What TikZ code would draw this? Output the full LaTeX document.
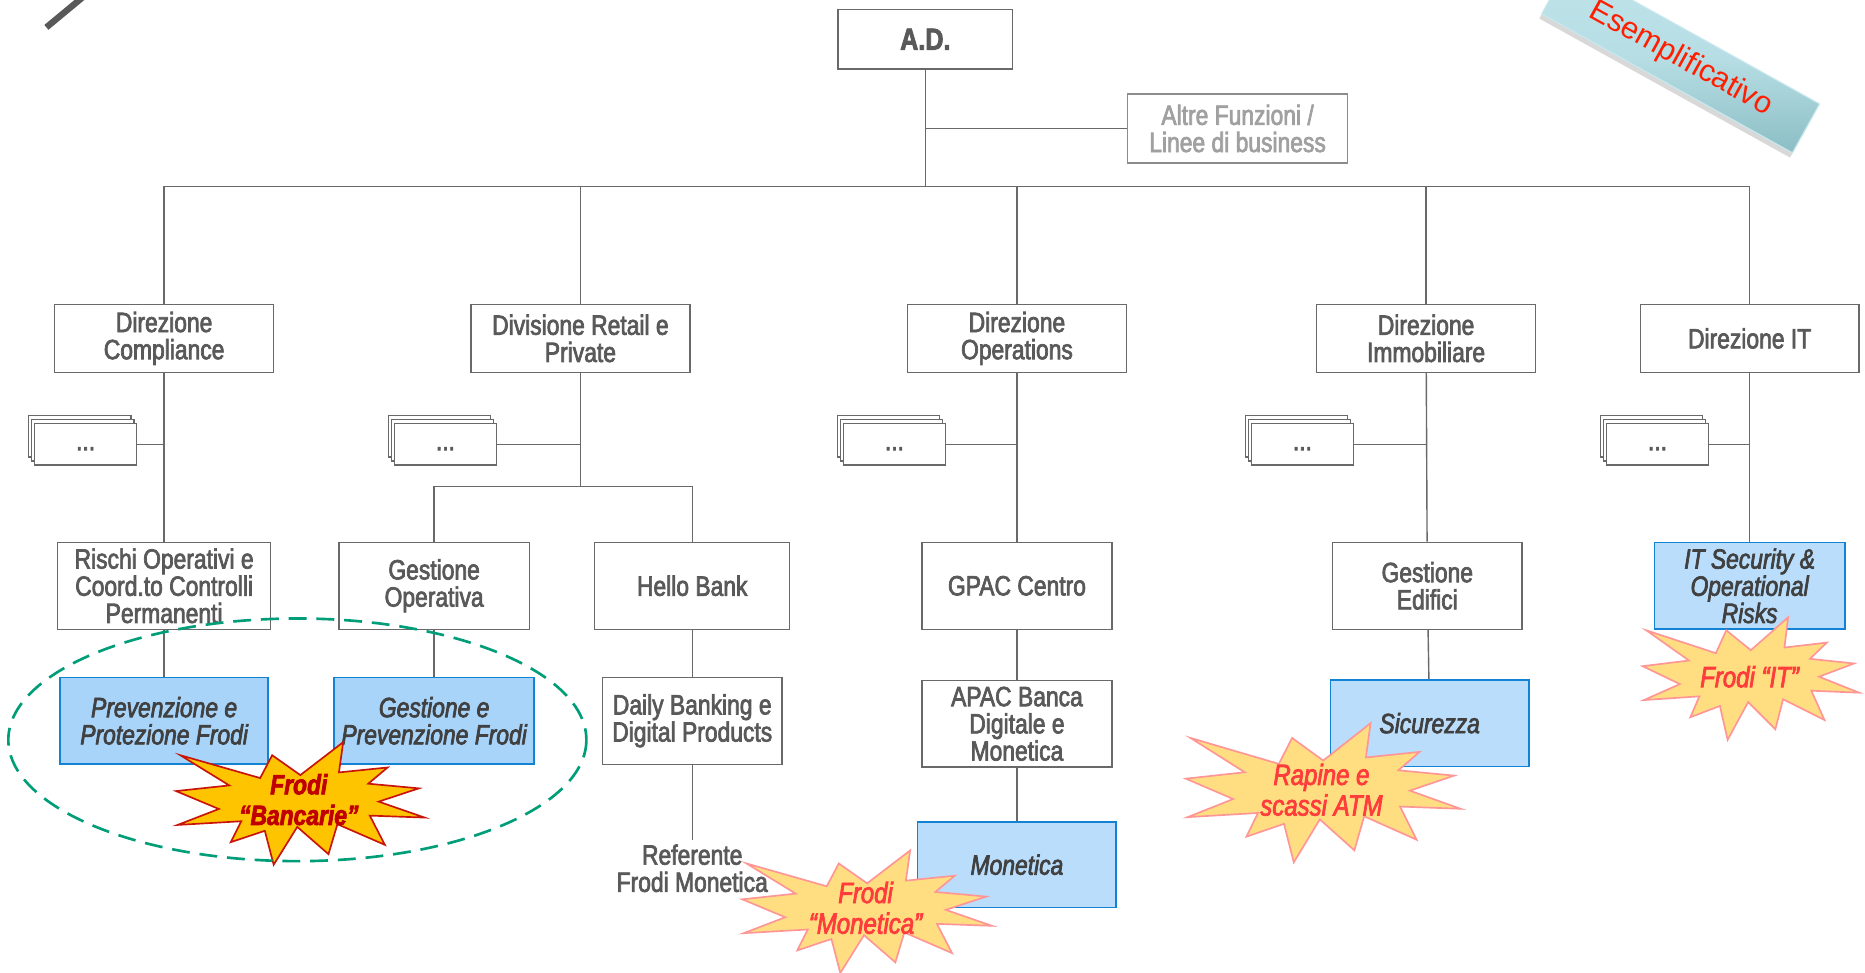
\documentclass[tikz,border=0pt]{standalone}
\usepackage{fontspec}
\setmainfont{Liberation Sans}[FakeStretch=0.82,FakeBold=2.5]
\newfontfamily\bannerfont{Liberation Sans}
\usetikzlibrary{shadows}
\definecolor{line_gray}{RGB}{105,105,105}
\definecolor{text_gray}{RGB}{89,89,89}
\definecolor{text_dark}{RGB}{64,64,64}
\definecolor{text_light}{RGB}{160,160,160}
\definecolor{edge_light}{RGB}{140,140,140}
\definecolor{node_blue}{RGB}{186,221,252}
\definecolor{node_blue2}{RGB}{168,212,250}
\definecolor{edge_blue}{RGB}{20,130,210}
\definecolor{star_gold}{RGB}{255,196,0}
\definecolor{edge_darkred}{RGB}{200,20,10}
\definecolor{text_darkred}{RGB}{192,0,0}
\definecolor{star_yellow}{RGB}{255,222,130}
\definecolor{edge_pink}{RGB}{255,150,150}
\definecolor{text_red}{RGB}{255,60,60}
\definecolor{ellipse_green}{RGB}{0,158,120}
\definecolor{banner_top}{RGB}{192,229,235}
\definecolor{banner_bot}{RGB}{140,190,197}
\definecolor{banner_edge}{RGB}{200,232,238}
\definecolor{banner_text}{RGB}{255,30,0}

% explosion outline: x0, y0, width, height, style
\newcommand{\explosion}[5]{%
  \begin{scope}[shift={(#1,#2)},xscale=#3/216,yscale=#4/216]
    \draw[#5] (108,58) -- (145.22,0) -- (141.55,53.25) -- (183.80,44.57)
      -- (167.02,73.15) -- (210.97,81.37) -- (176.07,104.75) -- (216,132.90)
      -- (168.37,129.42) -- (181.45,180.95) -- (140.20,144.57) -- (132.47,197.37)
      -- (105.32,149.35) -- (84.85,216) -- (77.15,156.27) -- (47.62,176.17)
      -- (56.67,139.37) -- (1.35,145.87) -- (37.22,117.75) -- (0,86.15)
      -- (46.27,76.17) -- (3.70,22.95) -- (73.12,63.20) -- (83.52,22.95) -- cycle;
  \end{scope}}

\begin{document}
\begin{tikzpicture}[x=0.3mm,y=-0.3mm,line width=1pt]
    \tikzstyle{box}=[draw=line_gray, fill=white, text=text_gray, align=center, inner sep=0pt, font=\fontsize{20}{19.5}\selectfont]
    \tikzstyle{head}=[box, minimum width=55.2mm, minimum height=17.1mm]
    \tikzstyle{unit}=[box, minimum height=21.9mm]
    \tikzstyle{risk}=[unit, fill=node_blue, draw=edge_blue, line width=1.2pt, text=text_dark, font=\fontsize{20}{19.5}\selectfont\itshape]
    \tikzstyle{riskgroup}=[risk, fill=node_blue2]
    \tikzstyle{dots}=[box, minimum width=25.8mm, minimum height=10.5mm, text height=3mm, text depth=0pt,
      copy shadow={shadow xshift=-1.5mm, shadow yshift=2mm, fill=white, draw=line_gray},
      copy shadow={shadow xshift=-0.75mm, shadow yshift=1mm, fill=white, draw=line_gray}]
    \tikzstyle{link}=[draw=line_gray]
    \tikzstyle{startext}=[align=center, inner sep=0pt, text=text_red, font=\fontsize{21}{22}\selectfont\itshape]
    \tikzstyle{pinkstar}=[fill=star_yellow, draw=edge_pink, line width=1.2pt]
    \tikzstyle{goldstar}=[fill=star_gold, draw=edge_darkred, line width=1.2pt]

    \useasboundingbox (0,0) rectangle (1568,818);
    \fill[white] (0,0) rectangle (1568,818);

    \draw[text_gray, line width=1.6mm] (39,23) -- (80,-11);
    \node[rotate=-29, minimum width=72.3mm, minimum height=14.1mm, draw=banner_edge, line width=0.8pt,
      top color=banner_top, bottom color=banner_bot, middle color=banner_top!80!banner_bot,
      drop shadow={opacity=0.3, shadow xshift=-0.6mm, shadow yshift=-1.2mm},
      text=banner_text, font=\bannerfont\fontsize{22}{22}\selectfont] (banner) at (1413,49.5) {Esemplificativo};

    \node[box, minimum width=44.1mm, minimum height=15mm, font=\fontsize{22}{22}\selectfont\bfseries] (ad) at (778,33) {A.D.};
    \node[box, draw=edge_light, text=text_light, minimum width=55.5mm, minimum height=17.4mm] (altre) at (1040.5,108) {Altre Funzioni /\\Linee di business};
    \coordinate (bus) at (778,157);

    \node[head] (comp)   at (138,284.5)  {Direzione\\Compliance};
    \node[head] (retail) at (488,284.5)  {Divisione Retail e\\Private};
    \node[head] (oper)   at (855,284.5)  {Direzione\\Operations};
    \node[head] (immo)   at (1199,284.5) {Direzione\\Immobiliare};
    \node[head] (dirit)  at (1471,284.5) {Direzione IT};

    \node[dots] (dotscomp)   at (72,373.5)    {...};
    \node[dots] (dotsretail) at (374.5,373.5) {...};
    \node[dots] (dotsoper)   at (752,373.5)   {...};
    \node[dots] (dotsimmo)   at (1095,373.5)  {...};
    \node[dots] (dotsit)     at (1393.5,373.5){...};
    \coordinate (rsplit) at (488,409);

    \node[unit, minimum width=53.7mm] (rischi)  at (138,492.5)  {Rischi Operativi e\\Coord.to Controlli\\Permanenti};
    \node[unit, minimum width=48mm]   (gestop)  at (365,492.5)  {Gestione\\Operativa};
    \node[unit, minimum width=49.2mm] (hello)   at (582,492.5)  {Hello Bank};
    \node[unit, minimum width=48mm]   (gpac)    at (855,492.5)  {GPAC Centro};
    \node[unit, minimum width=47.7mm] (edifici) at (1200,492.5) {Gestione\\Edifici};
    \node[risk, minimum width=48mm]   (itsec)   at (1471,492.5) {IT Security \&\\Operational\\Risks};

    \node[riskgroup, minimum width=52.5mm] (prev)     at (138,606)   {Prevenzione e\\Protezione Frodi};
    \node[riskgroup, minimum width=50.4mm] (gestprev) at (365,606)   {Gestione e\\Prevenzione Frodi};
    \node[unit, minimum width=45.3mm]      (daily)    at (582,606)   {Daily Banking e\\Digital Products};
    \node[unit, minimum width=48mm]        (apac)     at (855,608.5) {APAC Banca\\Digitale e\\Monetica};
    \node[risk, minimum width=50.1mm]      (sicur)    at (1202,608)  {Sicurezza};

    \node[align=center, inner sep=1mm, text=text_gray, font=\fontsize{20}{19.5}\selectfont] (referente) at (582,730) {Referente\\Frodi Monetica};
    \node[risk, minimum width=50.1mm, minimum height=21.6mm] (monetica) at (855,727) {Monetica};

    \path[link]
     (ad) edge (bus)
     (ad.south |- altre.west) edge (altre.west)
     (dotscomp.east)   edge (dotscomp.east -| comp.south)
     (dotsretail.east) edge (dotsretail.east -| retail.south)
     (dotsoper.east)   edge (dotsoper.east -| oper.south)
     (dotsimmo.east)   edge (dotsimmo.east -| immo.south)
     (dotsit.east)     edge (dotsit.east -| dirit.south)
     (comp)    edge (rischi)
     (rischi)  edge (prev)
     (retail)  edge (rsplit)
     (gestop)  edge (gestprev)
     (hello)   edge (daily)
     (daily)   edge (referente)
     (oper)    edge (gpac)
     (gpac)    edge (apac)
     (apac)    edge (monetica)
     (immo)    edge (edifici)
     (edifici) edge (sicur)
     (dirit)   edge (itsec)
     ;
    \draw[link] (comp.north) |- (bus) -| (dirit.north);
    \foreach \n in {retail,oper,immo} \draw[link] (\n.north) -- (\n.north |- bus);
    \draw[link] (gestop.north) |- (rsplit) -| (hello.north);

    % stars
    \explosion{148}{624}{209}{103}{goldstar}
    \node[startext, text=text_darkred, font=\fontsize{20}{22}\selectfont\bfseries\itshape] (bancarie) at (251.2,672.3) {Frodi\\“Bancarie”};
    \explosion{624}{715}{210}{103}{pinkstar}
    \node[startext] (frodimon) at (727.7,763.3) {Frodi\\“Monetica”};
    \explosion{997}{608}{231}{117}{pinkstar}
    \node[startext] (rapine) at (1111,664) {Rapine e\\scassi ATM};
    \explosion{1381}{519}{182}{103}{pinkstar}
    \node[startext] (frodiit) at (1470.9,569) {Frodi “IT”};

    \draw[ellipse_green, line width=1.9pt, dash pattern=on 4.5mm off 2.5mm] (250,622) ellipse [x radius=243, y radius=102];
\end{tikzpicture}
\end{document}
